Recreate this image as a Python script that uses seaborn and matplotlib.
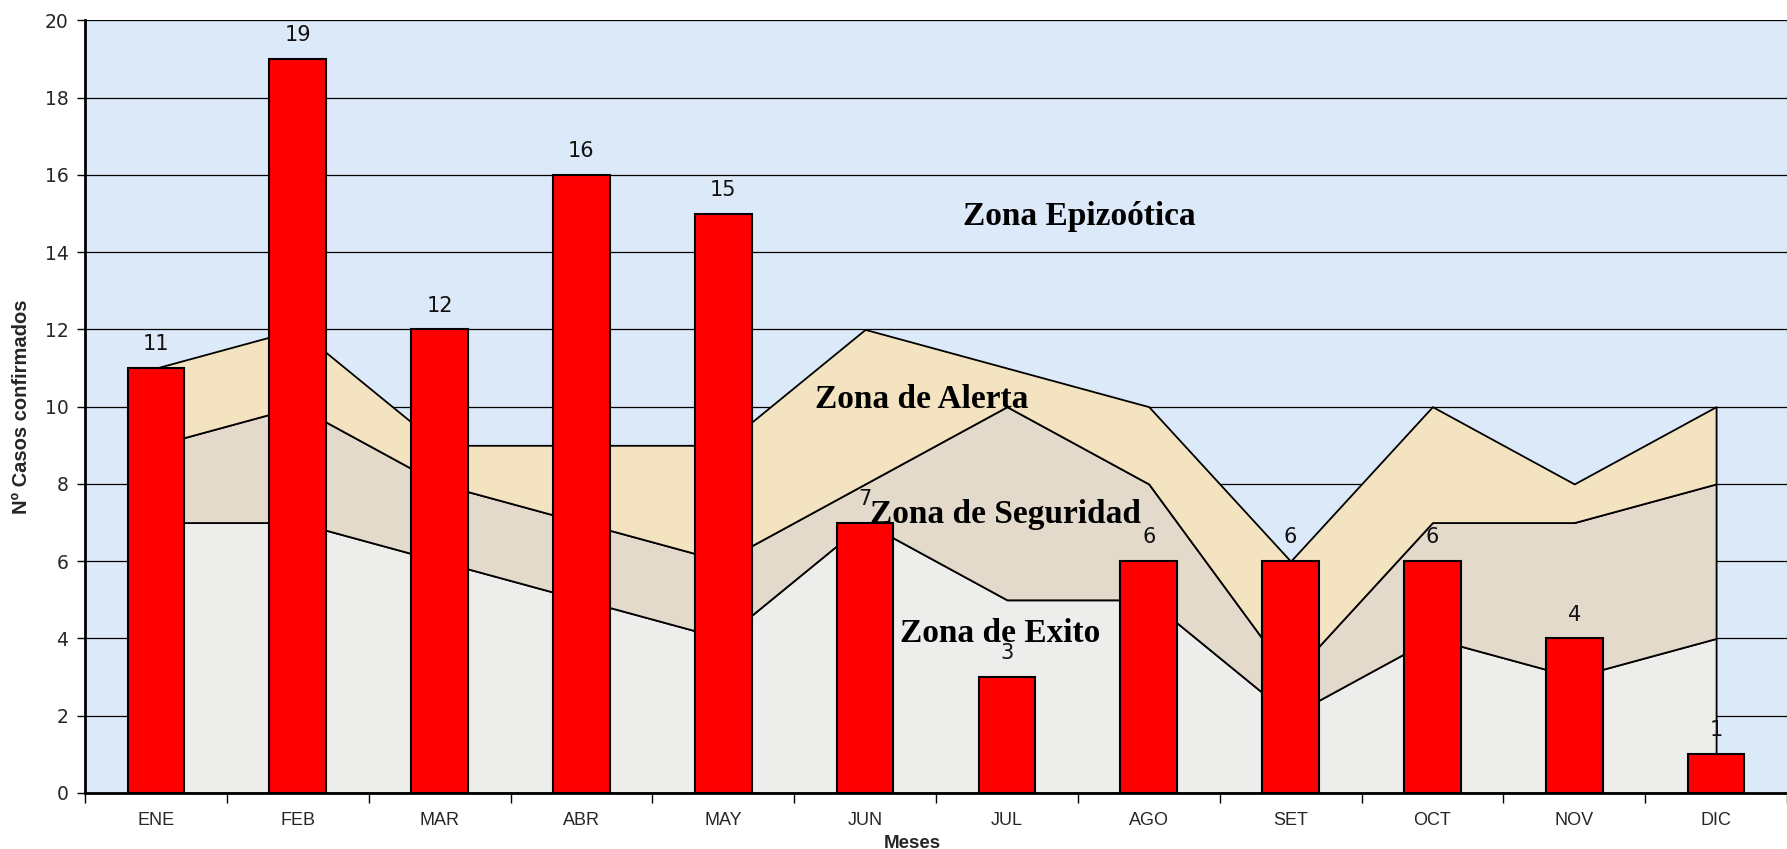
import matplotlib
matplotlib.use("Agg")
import matplotlib.pyplot as plt
import seaborn as sns
import numpy as np
import pandas as pd

# ---- data ----
meses = ["ENE", "FEB", "MAR", "ABR", "MAY", "JUN", "JUL", "AGO", "SET", "OCT", "NOV", "DIC"]
casos = [11, 19, 12, 16, 15, 7, 3, 6, 6, 6, 4, 1]
exito_sup = [7, 7, 6, 5, 4, 7, 5, 5, 2, 4, 3, 4]
seguridad_sup = [9, 10, 8, 7, 6, 8, 10, 8, 3, 7, 7, 8]
alerta_sup = [11, 12, 9, 9, 9, 12, 11, 10, 6, 10, 8, 10]
yticks = list(range(0, 21, 2))

zonas = ["Zona Epizoótica", "Zona de Alerta", "Zona de Seguridad", "Zona de Exito"]

sns.set_theme(style="white")
plt.rcParams['font.family'] = ['Liberation Sans', 'DejaVu Sans']

fig = plt.figure(figsize=(17.87, 8.49), dpi=100)
ax = fig.add_axes([0.0476, 0.066, 0.9524, 0.910])

c_bg = "#dce9f8"
c_exito = "#ededec"
c_seg = "#e4dacb"
c_alerta = "#f4e3c1"

ax.set_facecolor(c_bg)
x = np.arange(len(meses))

ax.fill_between(x, 0, exito_sup, facecolor=c_exito, edgecolor="black", linewidth=1.3, zorder=2)
ax.fill_between(x, exito_sup, seguridad_sup, facecolor=c_seg, edgecolor="black", linewidth=1.3, zorder=2)
ax.fill_between(x, seguridad_sup, alerta_sup, facecolor=c_alerta, edgecolor="black", linewidth=1.3, zorder=2)

df = pd.DataFrame({"mes": meses, "casos": casos})
sns.barplot(data=df, x="mes", y="casos", order=meses, color="#ff0000", saturation=1,
            edgecolor="black", linewidth=1.5, width=0.4, zorder=3, ax=ax)
for p in ax.patches:
    p.set_zorder(3)
    p.set_facecolor("#ff0000")

ax.bar_label(ax.containers[0], labels=[str(v) for v in casos], padding=10,
             fontsize=15, family="DejaVu Sans", color="#111111", zorder=4)

ax.set_xlim(-0.5, len(meses) - 0.5)
ax.set_ylim(0, 20)
ax.set_yticks(yticks)
ax.set_yticklabels([str(v) for v in yticks], fontsize=13.5, family="DejaVu Sans")
ax.yaxis.grid(True, color="black", linewidth=0.9)
ax.set_axisbelow(True)
for gl in ax.get_ygridlines():
    gl.set_zorder(1)

# ticks at category boundaries, labels at centers
ax.set_xticks(np.arange(-0.5, len(meses) + 0.5, 1.0))
ax.set_xticklabels([])
ax.set_xticks(x, minor=True)
ax.set_xticklabels(meses, minor=True, fontsize=13)
ax.tick_params(axis="x", which="major", direction="out", length=7, width=1, color="black", bottom=True)
ax.tick_params(axis="x", which="minor", length=0, pad=14)
ax.tick_params(axis="y", direction="out", length=6, width=1, color="black", left=True, pad=6)

for s in ["top", "right"]:
    ax.spines[s].set_visible(False)
for s in ["left", "bottom"]:
    ax.spines[s].set_color("black")
    ax.spines[s].set_linewidth(2)
    ax.spines[s].set_zorder(5)

ax.set_xlabel("Meses", fontsize=13.5, fontweight="bold", labelpad=2)
ax.xaxis.set_label_coords(0.486, -0.055)
ax.set_ylabel("Nº Casos confirmados", fontsize=14.5, fontweight="bold", labelpad=10)

zpos = [(6.51, 14.92), (5.40, 10.18), (5.99, 7.22), (5.95, 4.14)]
for t, (zx, zy) in zip(zonas, zpos):
    ax.text(zx, zy, t, ha="center", va="center", fontsize=24, fontweight="bold",
            family="Liberation Serif", color="black", zorder=6)

fig.savefig("out.png", dpi=100)
